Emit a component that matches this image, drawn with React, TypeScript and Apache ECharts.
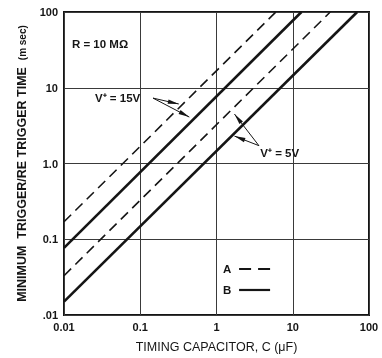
import React, { useEffect, useRef } from "react";
import * as echarts from "echarts";

// Tick labels (by decade, 10^-2 .. 10^2)
const xTickLabels = ["0.01", "0.1", "1", "10", "100"];
const yTickLabels = [".01", "0.1", "1.0", "10", "100"];

// Lines: [C (uF), time (ms)] endpoints, slope ~1 on log-log
const lineA15 = [[0.01, 0.17], [6.0, 100]];
const lineB15 = [[0.01, 0.077], [13, 100]];
const lineA5 = [[0.01, 0.033], [31, 100]];
const lineB5 = [[0.01, 0.015], [70, 100]];

// Legend entries
const legendNames = ["A", "B"];

// Annotation anchors in data coordinates
const rLabelPos = [0.0127, 38];
const v15TextPos = [0.0255, 7.3];
const v15ArrowFrom = [0.147, 7.3];
const v15Tips = [[0.32, 6.1], [0.44, 4.1]];
const v5TextPos = [3.75, 1.39];
const v5ArrowFrom = [3.6, 1.72];
const v5Tips = [[1.72, 4.5], [1.72, 2.3]];
const legendPos = [1.22, 0.0405];

const FONT = "'Liberation Sans', Arial, Helvetica, sans-serif";
const INK = "#151515";

function labelFor(labels: string[]) {
  return (v: number) => {
    const e = Math.round(Math.log10(v));
    return labels[e + 2] ?? "";
  };
}

export default function App() {
  const ref = useRef<HTMLDivElement>(null);
  useEffect(() => {
    if (!ref.current) return;
    const chart = echarts.init(ref.current, undefined, { renderer: "svg" });
    const solid = { color: INK, width: 2.6, type: "solid" as const };
    const dashed = { color: INK, width: 1.6, type: [10, 6] as any };
    const axisCommon = {
      type: "log" as const,
      logBase: 10,
      min: 0.01,
      max: 100,
      axisLine: { show: false },
      axisTick: { show: false },
      splitLine: { show: true, lineStyle: { color: "#3a3a3a", width: 1 } },
    };
    chart.setOption({
      animation: false,
      textStyle: { fontFamily: FONT },
      grid: {
        left: 64,
        right: 13,
        top: 12,
        bottom: 42,
        show: true,
        borderColor: INK,
        borderWidth: 2,
        backgroundColor: "transparent",
      },
      xAxis: {
        ...axisCommon,
        name: "TIMING CAPACITOR, C (\u03bcF)",
        nameLocation: "middle",
        nameGap: 25,
        nameTextStyle: { fontSize: 12.5, color: INK, fontFamily: FONT },
        axisLabel: {
          formatter: labelFor(xTickLabels),
          fontSize: 11,
          fontWeight: "bold",
          color: INK,
          margin: 6,
          fontFamily: FONT,
        },
      },
      yAxis: {
        ...axisCommon,
        name: "MINIMUM  TRIGGER/RE TRIGGER TIME  {s|(m sec)}",
        nameLocation: "middle",
        nameRotate: 90,
        nameGap: 34,
        nameTextStyle: {
          fontSize: 12.5,
          fontWeight: "bold",
          color: INK,
          fontFamily: FONT,
          rich: { s: { fontSize: 10, color: INK, fontFamily: FONT } },
        },
        axisLabel: {
          formatter: labelFor(yTickLabels),
          fontSize: 11,
          fontWeight: "bold",
          color: INK,
          margin: 6,
          fontFamily: FONT,
        },
      },
      series: [
        { name: "A", type: "line", data: lineA15, symbol: "none", lineStyle: dashed, itemStyle: { color: INK } },
        { name: "B", type: "line", data: lineB15, symbol: "none", lineStyle: solid, itemStyle: { color: INK } },
        { name: "A", type: "line", data: lineA5, symbol: "none", lineStyle: dashed, itemStyle: { color: INK } },
        { name: "B", type: "line", data: lineB5, symbol: "none", lineStyle: solid, itemStyle: { color: INK } },
      ],
    });

    const px = (p: number[]) => chart.convertToPixel({ gridIndex: 0 }, p) as number[];
    const arrow = (from: number[], to: number[]) => {
      const a = px(from);
      const b = px(to);
      const dx = b[0] - a[0];
      const dy = b[1] - a[1];
      const len = Math.hypot(dx, dy) || 1;
      const ux = dx / len;
      const uy = dy / len;
      const L = 11;
      const W = 2.2;
      const bx = b[0] - ux * L;
      const by = b[1] - uy * L;
      return [
        {
          type: "line",
          shape: { x1: a[0], y1: a[1], x2: b[0], y2: b[1] },
          style: { stroke: INK, lineWidth: 1 },
        },
        {
          type: "polygon",
          shape: {
            points: [
              [b[0], b[1]],
              [bx - uy * W, by + ux * W],
              [bx + uy * W, by - ux * W],
            ],
          },
          style: { fill: INK },
        },
      ];
    };
    const textAt = (x: number, y: number, text: string, size = 11.5) => ({
      type: "text",
      x,
      y,
      style: {
        text,
        fill: INK,
        font: `bold ${size}px ${FONT}`,
        verticalAlign: "middle",
      },
    });
    const textEl = (p: number[], text: string, size = 11.5) => {
      const q = px(p);
      return textAt(q[0], q[1], text, size);
    };
    const lg = px(legendPos);
    const legendEls: any[] = [];
    legendNames.forEach((name, i) => {
      const y = lg[1] + i * 21;
      legendEls.push(textAt(lg[0], y, name, 11.5));
      legendEls.push({
        type: "line",
        shape: { x1: lg[0] + 16, y1: y, x2: lg[0] + 47, y2: y },
        style: {
          stroke: INK,
          lineWidth: i === 0 ? 1.8 : 2.2,
          lineDash: i === 0 ? [12, 7] : null,
        },
      });
    });
    chart.setOption({
      graphic: [
        textEl(rLabelPos, "R = 10 M\u03a9"),
        textEl(v15TextPos, "V\u207a = 15V"),
        ...arrow(v15ArrowFrom, v15Tips[0]),
        ...arrow(v15ArrowFrom, v15Tips[1]),
        textEl(v5TextPos, "V\u207a = 5V"),
        ...arrow(v5ArrowFrom, v5Tips[0]),
        ...arrow(v5ArrowFrom, v5Tips[1]),
        ...legendEls,
      ],
    });
    return () => chart.dispose();
  }, []);
  return <div ref={ref} style={{ position: "fixed", left: 0, top: 0, width: 382, height: 358 }} />;
}
